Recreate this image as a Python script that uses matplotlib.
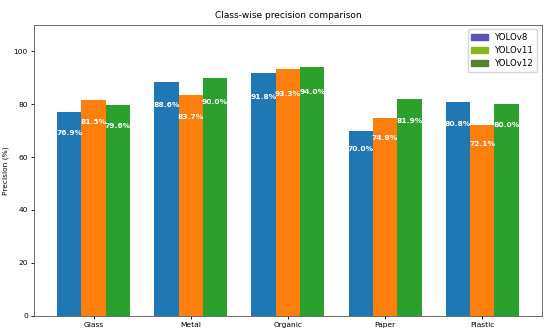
import numpy as np
import matplotlib
matplotlib.use("Agg")
import matplotlib.pyplot as plt
from matplotlib.patches import Patch

classes = ["Glass", "Metal", "Organic", "Paper", "Plastic"]
models = ["YOLOv8", "YOLOv11", "YOLOv12"]
yolov8 = [76.9, 88.6, 91.8, 70.0, 80.8]
yolov11 = [81.5, 83.7, 93.3, 74.8, 72.1]
yolov12 = [79.6, 90.0, 94.0, 81.9, 80.0]

bar_colors = ["#1f77b4", "#ff7f0e", "#2ca02c"]
legend_colors = ["#5b52b3", "#8db51c", "#5a8032"]

x = np.arange(len(classes))
w = 0.25
fs = 5.4

fig, ax = plt.subplots(figsize=(5.5, 3.34), dpi=100)
fig.subplots_adjust(left=0.062, right=0.985, top=0.925, bottom=0.055)

for i, vals in enumerate([yolov8, yolov11, yolov12]):
    bars = ax.bar(x + (i - 1) * w, vals, w, color=bar_colors[i])
    for b, v in zip(bars, vals):
        ax.text(b.get_x() + b.get_width() / 2, v * 0.9, f"{v:.1f}%",
                ha="center", va="center", color="white",
                fontsize=fs, fontweight="bold")

ax.set_xticks(x)
ax.set_xticklabels(classes, fontsize=fs)
ax.set_yticks([0, 20, 40, 60, 80, 100])
ax.tick_params(axis="both", labelsize=fs, length=2.5, width=0.6, pad=2)
ax.set_ylim(0, 110)
ax.set_ylabel("Precision (%)", fontsize=fs, labelpad=3)
ax.set_title("Class-wise precision comparison", fontsize=6.5, pad=5)
for s in ax.spines.values():
    s.set_linewidth(0.6)
    s.set_color("#555555")

handles = [Patch(color=c, label=m) for c, m in zip(legend_colors, models)]
ax.legend(handles=handles, loc="upper right", fontsize=6.2)

plt.savefig("out.png")
